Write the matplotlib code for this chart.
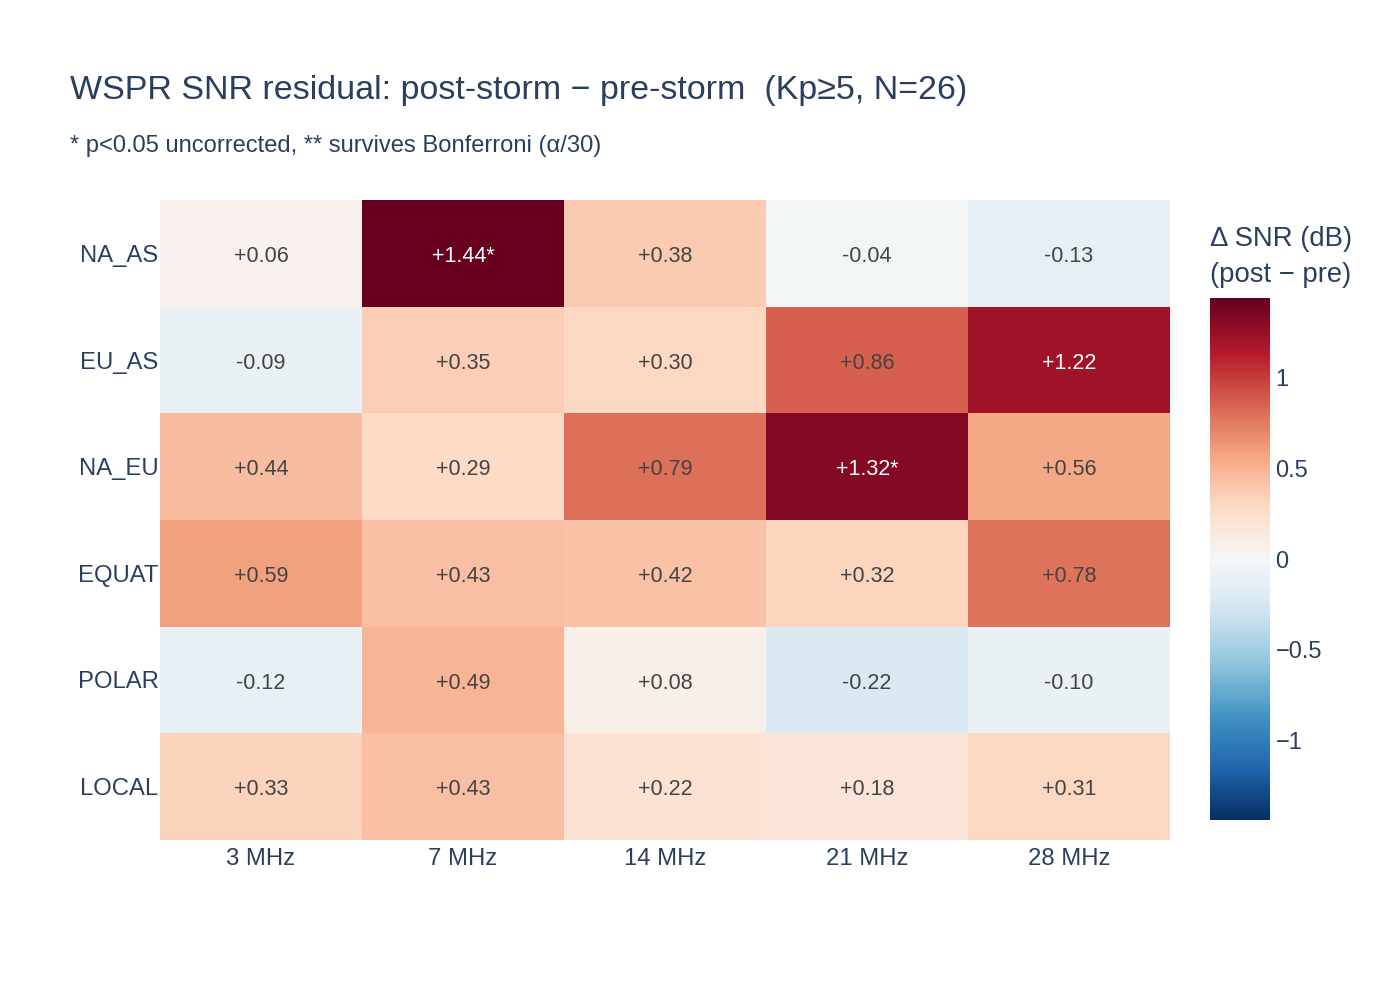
import matplotlib.pyplot as plt
import numpy as np
from matplotlib.colors import Normalize

plt.rcParams['font.family'] = ['Liberation Sans', 'DejaVu Sans']

bands = ["3 MHz", "7 MHz", "14 MHz", "21 MHz", "28 MHz"]
paths = ["NA_AS", "EU_AS", "NA_EU", "EQUAT", "POLAR", "LOCAL"]
delta = np.array([
    [0.06, 1.44, 0.38, -0.04, -0.13],
    [-0.09, 0.35, 0.30, 0.86, 1.22],
    [0.44, 0.29, 0.79, 1.32, 0.56],
    [0.59, 0.43, 0.42, 0.32, 0.78],
    [-0.12, 0.49, 0.08, -0.22, -0.10],
    [0.33, 0.43, 0.22, 0.18, 0.31],
])
stars = [
    ["", "*", "", "", ""],
    ["", "", "", "", ""],
    ["", "", "", "*", ""],
    ["", "", "", "", ""],
    ["", "", "", "", ""],
    ["", "", "", "", ""],
]

W, H = 1400, 1000
fig = plt.figure(figsize=(W / 100, H / 100), dpi=100)
txt = "#2a3f5f"

def box(x0, y0, x1, y1):
    return [x0 / W, 1 - y1 / H, (x1 - x0) / W, (y1 - y0) / H]

ax = fig.add_axes(box(160, 200, 1170, 840))
zmax = np.abs(delta).max()
norm = Normalize(-zmax, zmax)
cmap = plt.get_cmap("RdBu_r")
mesh = ax.pcolormesh(delta, cmap=cmap, norm=norm)
ax.set_xlim(0, len(bands))
ax.set_ylim(len(paths), 0)

for i in range(len(paths)):
    for j in range(len(bands)):
        v = delta[i, j]
        r, g, b, _ = cmap(norm(v))
        lum = 0.299 * r + 0.587 * g + 0.114 * b
        c = "white" if lum < 0.4 else "#444444"
        ax.text(j + 0.5, i + 0.53, f"{v:+.2f}{stars[i][j]}", ha="center", va="center",
                fontsize=15.5, color=c)

ax.set_xticks(np.arange(len(bands)) + 0.5)
ax.set_xticklabels(bands)
ax.set_yticks(np.arange(len(paths)) + 0.5)
ax.set_yticklabels(paths)
ax.tick_params(length=0, labelsize=17.2, labelcolor=txt, pad=1)
ax.tick_params(axis="x", pad=6)
for s in ax.spines.values():
    s.set_visible(False)

cax = fig.add_axes(box(1210, 298, 1270, 820))
cb = fig.colorbar(mesh, cax=cax)
cb.set_ticks([-1, -0.5, 0, 0.5, 1])
cb.set_ticklabels(["\u22121", "\u22120.5", "0", "0.5", "1"])
cb.outline.set_visible(False)
cax.tick_params(length=0, labelsize=17, labelcolor=txt, pad=4)
fig.text(1210 / W, 1 - 239 / H, "\u0394 SNR (dB)", fontsize=19.8, color=txt, ha="left", va="center")
fig.text(1210 / W, 1 - 275 / H, "(post \u2212 pre)", fontsize=19.8, color=txt, ha="left", va="center")

fig.text(70 / W, 1 - 91 / H, "WSPR SNR residual: post-storm \u2212 pre-storm  (Kp\u22655, N=26)",
         fontsize=24.5, color=txt, ha="left", va="center")
fig.text(70 / W, 1 - 146 / H, "* p<0.05 uncorrected, ** survives Bonferroni (\u03b1/30)",
         fontsize=17.1, color=txt, ha="left", va="center")

fig.savefig("out.png", dpi=100)
